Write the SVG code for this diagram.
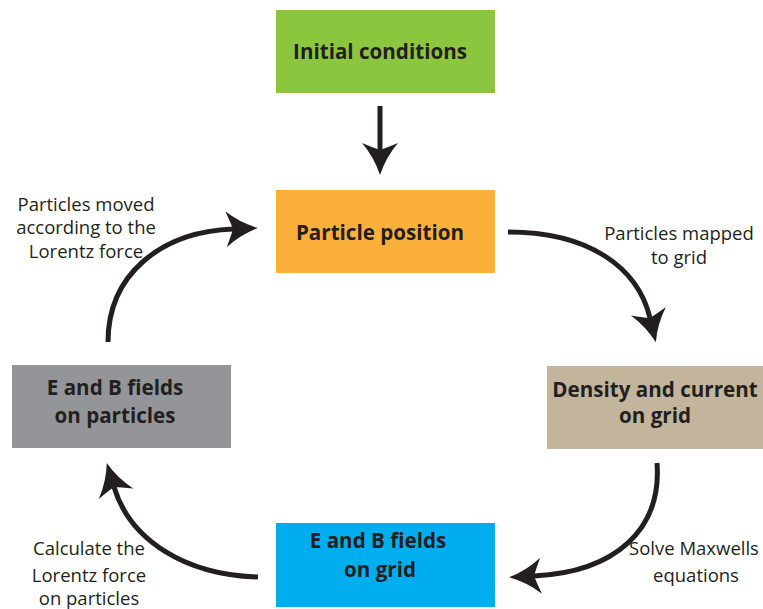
<svg xmlns="http://www.w3.org/2000/svg" width="763" height="609" viewBox="0 0 763 609">
  <style>
    .box-label { font-family: "Open Sans", "Liberation Sans", sans-serif; font-weight: 700; font-size: 20.6px; fill: #231f20; text-anchor: middle; }
    .note { font-family: "Open Sans", "Liberation Sans", sans-serif; font-size: 18.5px; fill: #231f20; text-anchor: middle; }
    .link { fill: none; stroke: #231f20; stroke-width: 5; marker-end: url(#head); }
  </style>
  <defs>
    <!-- barbed arrowhead; the path ends at the notch, the tip lies 25px beyond -->
    <marker id="head" markerUnits="userSpaceOnUse" viewBox="-36 -22 44 44" refX="-25" refY="0" markerWidth="44" markerHeight="44" orient="auto">
      <path d="M0,0 Q-18,-6 -32,-18 Q-27,-6 -25,0 Q-27,6 -32,18 Q-18,6 0,0 Z" fill="#231f20"/>
    </marker>
  </defs>

  <g id="initial-conditions">
    <rect x="276" y="10" width="219" height="83" fill="#8cc63f"/>
    <text class="box-label" x="380" y="59">Initial conditions</text>
  </g>

  <g id="particle-position">
    <rect x="276" y="190" width="219" height="83" fill="#fbb03b"/>
    <text class="box-label" x="380" y="240">Particle position</text>
  </g>

  <g id="density-current">
    <rect x="547" y="366" width="216" height="83" fill="#c2b59b"/>
    <text class="box-label" x="655" y="397">Density and current</text>
    <text class="box-label" x="655" y="423">on grid</text>
  </g>

  <g id="fields-grid">
    <rect x="276" y="523" width="219" height="84" fill="#00aeef"/>
    <text class="box-label" x="378" y="548">E and B fields</text>
    <text class="box-label" x="380" y="577">on grid</text>
  </g>

  <g id="fields-particles">
    <rect x="12" y="365" width="219" height="83" fill="#939598"/>
    <text class="box-label" x="115" y="395">E and B fields</text>
    <text class="box-label" x="115" y="423">on particles</text>
  </g>

  <g id="connectors">
    <path class="link" d="M380,106 L380,150"/>
    <path class="link" d="M508,232 C590,232 638,268 650,318"/>
    <path class="link" d="M657,463 C662,530 615,572 534,576"/>
    <path class="link" d="M258,577 C185,575 130,540 114,487"/>
    <path class="link" d="M108,342 C108,275 160,232 233,229"/>
  </g>

  <g id="notes">
    <text class="note" x="86" y="211">Particles moved</text>
    <text class="note" x="86" y="234">according to the</text>
    <text class="note" x="86" y="258">Lorentz force</text>

    <text class="note" x="679" y="240">Particles mapped</text>
    <text class="note" x="679" y="264">to grid</text>

    <text class="note" x="694" y="555">Solve Maxwells</text>
    <text class="note" x="696" y="582">equations</text>

    <text class="note" x="89" y="555">Calculate the</text>
    <text class="note" x="89" y="582">Lorentz force</text>
    <text class="note" x="89" y="605">on particles</text>
  </g>
</svg>
